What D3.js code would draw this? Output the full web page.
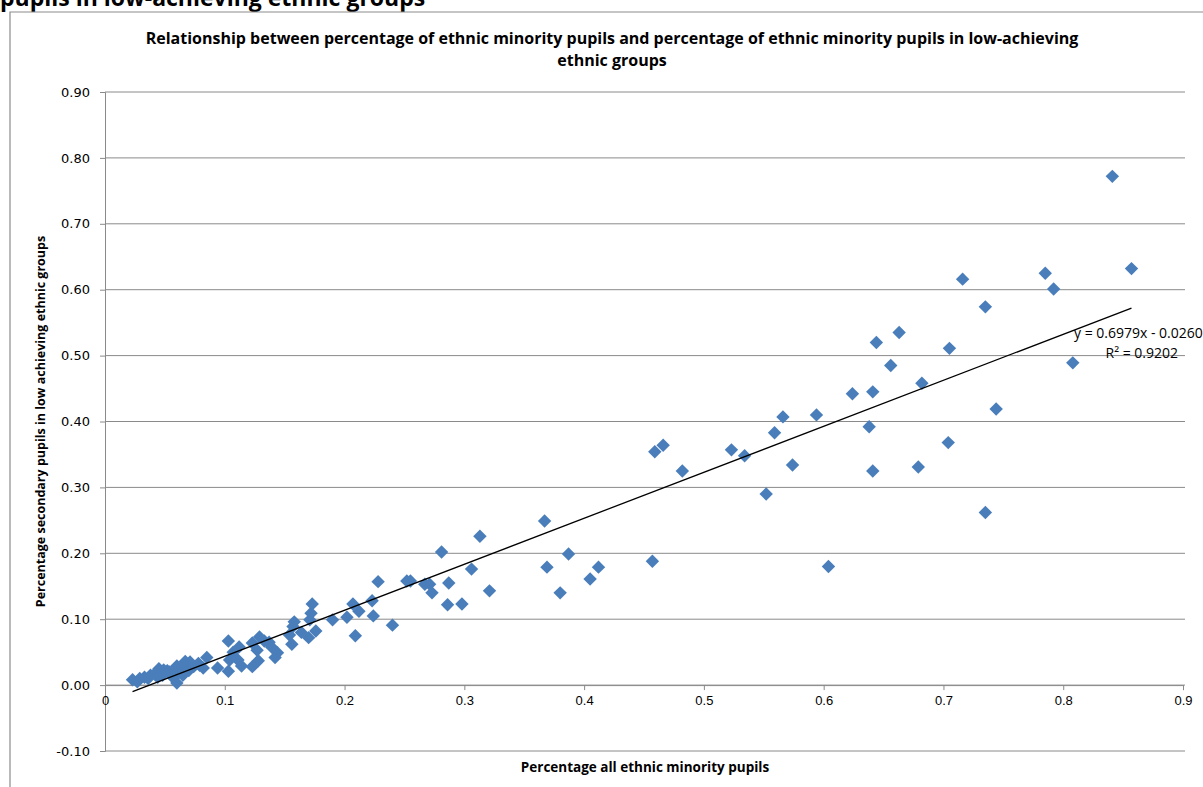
<!DOCTYPE html>
<html lang="en">
<head>
    <meta charset="UTF-8">
    <title>Ethnic minority pupils scatter</title>
    <script src="https://cdn.jsdelivr.net/npm/d3@7"></script>
    <style>
        body { margin: 0; background: #fff; }
        svg { display: block; }
    </style>
</head>
<body>
<script>
    // data
    let xPct = [0.841,0.857,0.716,0.785,0.792,0.735,0.663,0.644,0.656,0.705,0.682,0.808,0.744,0.704,0.679,0.735,0.641,
        0.624,0.641,0.594,0.566,0.559,0.638,0.523,0.534,0.574,0.459,0.466,0.482,0.552,0.604,0.457,
        0.367,0.313,0.281,0.387,0.306,0.369,0.412,0.405,0.380,0.321,0.228,0.252,0.255,0.267,0.271,0.287,0.273,0.286,0.298,
        0.223,0.207,0.212,0.224,0.202,0.190,0.240,0.209,
        0.173,0.172,0.171,0.176,0.170,0.158,0.157,0.154,0.156,0.164,0.129,0.123,0.133,0.137,0.139,0.144,0.142,0.127,0.128,0.123,
        0.103,0.112,0.107,0.111,0.114,0.104,0.103,0.094,0.085,0.082,0.078,0.071,0.068,0.064,0.060,0.061,0.060,0.054,0.049,0.048,
        0.042,0.038,0.033,0.029,0.023,0.027,0.065,0.057,0.045,0.052,0.067,0.074,0.058,0.070,0.036,0.044,0.079];
    let yLow = [0.772,0.632,0.616,0.625,0.601,0.574,0.535,0.520,0.485,0.511,0.458,0.489,0.419,0.368,0.331,0.262,0.325,
        0.442,0.445,0.410,0.407,0.383,0.392,0.357,0.348,0.334,0.354,0.364,0.325,0.290,0.180,0.188,
        0.249,0.226,0.202,0.199,0.176,0.179,0.179,0.161,0.140,0.143,0.157,0.158,0.158,0.153,0.153,0.155,0.140,0.122,0.123,
        0.128,0.123,0.112,0.105,0.103,0.099,0.091,0.075,
        0.123,0.109,0.099,0.082,0.072,0.096,0.089,0.076,0.062,0.080,0.073,0.064,0.067,0.065,0.058,0.049,0.042,0.053,0.037,0.028,
        0.067,0.058,0.050,0.038,0.029,0.038,0.021,0.026,0.042,0.026,0.033,0.035,0.030,0.027,0.029,0.018,0.003,0.020,0.023,0.015,
        0.018,0.015,0.012,0.010,0.008,0.005,0.015,0.011,0.025,0.022,0.036,0.028,0.024,0.022,0.010,0.012,0.030];
    let xTicks = [0,0.1,0.2,0.3,0.4,0.5,0.6,0.7,0.8,0.9];
    let yTicks = [-0.1,0,0.1,0.2,0.3,0.4,0.5,0.6,0.7,0.8,0.9];
    let slope = 0.6979, intercept = -0.0260;
    let trendLabels = ["y = 0.6979x - 0.0260", "R\u00b2 = 0.9202"];

    let W = 1203, H = 787;
    let svg = d3.select('body').append('svg').attr('width', W).attr('height', H);

    let xScale = d3.scaleLinear().domain([0, 0.9]).range([105, 1183]);
    let yScale = d3.scaleLinear().domain([-0.1, 0.9]).range([751, 92]);

    // page heading, cut off by the top edge like in the source
    svg.append('text').attr('x', 0).attr('y', 6)
        .style('font-family', 'Open Sans').style('font-weight', 'bold').style('font-size', '23px')
        .text('pupils in low-achieving ethnic groups');

    // chart border
    svg.append('path').attr('d', 'M10,' + H + ' V12 H' + W)
        .attr('fill', 'none').attr('stroke', '#8c8c8c').attr('stroke-width', 1.2);

    // title
    let title = svg.append('text').attr('text-anchor', 'middle')
        .style('font-family', 'Open Sans').style('font-weight', 'bold').style('font-size', '16px');
    title.append('tspan').attr('x', 612).attr('y', 44)
        .text('Relationship between percentage of ethnic minority pupils and percentage of ethnic minority pupils in low-achieving');
    title.append('tspan').attr('x', 612).attr('y', 66).text('ethnic groups');

    // gridlines
    svg.append('g').selectAll('line').data(yTicks).enter().append('line')
        .attr('x1', xScale(0)).attr('x2', xScale(0.9) + 2)
        .attr('y1', d => yScale(d)).attr('y2', d => yScale(d))
        .attr('stroke', '#8a8a8a').attr('stroke-width', 1);

    // y axis
    let yAxis = svg.append('g').attr('transform', 'translate(' + xScale(0) + ',0)')
        .call(d3.axisLeft(yScale).tickValues(yTicks).tickFormat(d => d3.format('.2f')(d).replace('\u2212', '-'))
            .tickSizeOuter(0).tickSize(5).tickPadding(10));
    yAxis.select('.domain').attr('stroke', '#8a8a8a');
    yAxis.selectAll('.tick line').attr('stroke', '#8a8a8a');
    yAxis.selectAll('text').style('font-family', 'DejaVu Sans').style('font-size', '13px').attr('fill', '#000');

    // x axis sits on y = 0
    let xAxis = svg.append('g').attr('transform', 'translate(0,' + yScale(0) + ')')
        .call(d3.axisBottom(xScale).tickValues(xTicks).tickFormat(d => d === 0 ? '0' : d3.format('.1f')(d))
            .tickSizeOuter(0).tickSize(5).tickPadding(6));
    xAxis.select('.domain').attr('stroke', '#8a8a8a');
    xAxis.selectAll('.tick line').attr('stroke', '#8a8a8a');
    xAxis.selectAll('text').style('font-family', 'Liberation Sans Narrow, Liberation Sans').style('font-size', '13px').attr('fill', '#000');

    // points
    let pts = xPct.map((x, i) => [x, yLow[i]]);
    svg.append('g').selectAll('path').data(pts).enter().append('path')
        .attr('d', d3.symbol(d3.symbolSquare, 90))
        .attr('transform', d => 'translate(' + xScale(d[0]) + ',' + yScale(d[1]) + ') rotate(45)')
        .attr('fill', '#4a7ebb');

    // linear trendline over the data range
    let xr = d3.extent(xPct);
    svg.append('line')
        .attr('x1', xScale(xr[0])).attr('y1', yScale(slope * xr[0] + intercept))
        .attr('x2', xScale(xr[1])).attr('y2', yScale(slope * xr[1] + intercept))
        .attr('stroke', '#000').attr('stroke-width', 1.3);

    svg.append('text').attr('x', 1074).attr('y', 338)
        .style('font-family', 'Open Sans').style('font-size', '14px').text(trendLabels[0]);
    svg.append('text').attr('x', 1178).attr('y', 358).attr('text-anchor', 'end')
        .style('font-family', 'Open Sans').style('font-size', '14px').text(trendLabels[1]);

    // axis titles
    svg.append('text').attr('transform', 'translate(45,' + yScale(0.4) + ') rotate(-90)')
        .attr('text-anchor', 'middle')
        .style('font-family', 'Open Sans').style('font-weight', 'bold').style('font-size', '12.5px')
        .text('Percentage secondary pupils in low achieving ethnic groups');
    svg.append('text').attr('x', 645).attr('y', 772).attr('text-anchor', 'middle')
        .style('font-family', 'Open Sans').style('font-weight', 'bold').style('font-size', '13.5px')
        .text('Percentage all ethnic minority pupils');
</script>
</body>
</html>
